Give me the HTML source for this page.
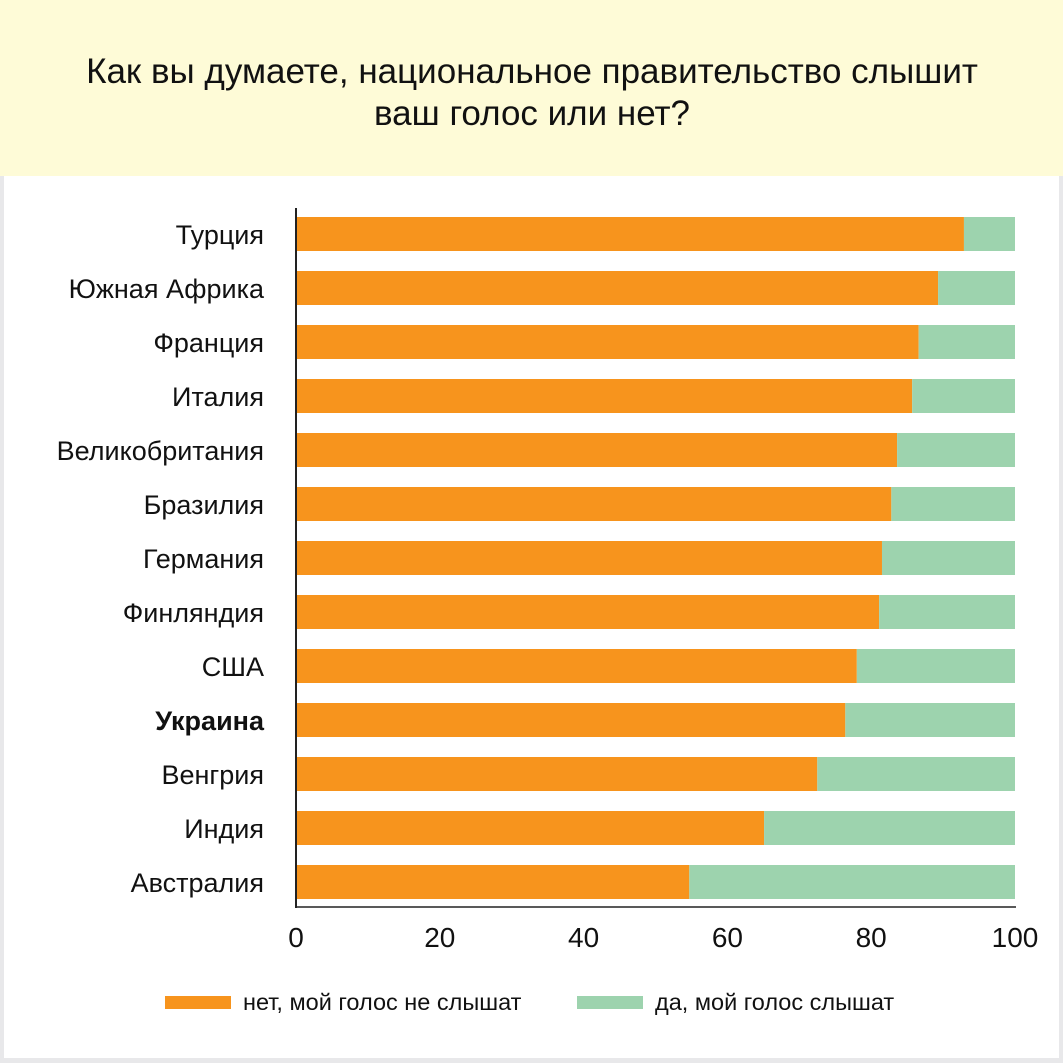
<!DOCTYPE html>
<html><head><meta charset="utf-8"><style>
body{margin:0;width:1063px;height:1063px;background:#e8e8ea;font-family:"Liberation Sans",sans-serif;overflow:hidden}
svg{display:block}
</style></head><body>
<svg width="1063" height="1063">
<rect x="4" y="0" width="1055" height="1058" fill="#fff"/>
<rect x="0" y="0" width="1063" height="176" fill="#fefbd7"/>
<text x="532" y="83" text-anchor="middle" font-size="35" fill="#111">Как вы думаете, национальное правительство слышит</text>
<text x="532" y="125" text-anchor="middle" font-size="35" fill="#111">ваш голос или нет?</text>
<g id="bars"></g>
<line x1="296" y1="208" x2="296" y2="908" stroke="#222" stroke-width="2"/>
<line x1="295" y1="907" x2="1016" y2="907" stroke="#222" stroke-width="1.5"/>
<g id="ticks"></g>
<rect x="165" y="996" width="66" height="13" fill="#f7941d"/>
<text x="243" y="1010" font-size="23.5" fill="#111">нет, мой голос не слышат</text>
<rect x="577" y="996" width="66" height="13" fill="#9dd3ae"/>
<text x="655" y="1010" font-size="23.5" fill="#111">да, мой голос слышат</text>
</svg>
<script>
const categories=["Турция","Южная Африка","Франция","Италия","Великобритания","Бразилия","Германия","Финляндия","США","Украина","Венгрия","Индия","Австралия"];
const noValues=[92.9,89.3,86.6,85.7,83.6,82.8,81.5,81.1,78.0,76.4,72.5,65.1,54.7];
const yesValues=[7.1,10.7,13.4,14.3,16.4,17.2,18.5,18.9,22.0,23.6,27.5,34.9,45.3];
const tickValues=[0,20,40,60,80,100];
const NS="http://www.w3.org/2000/svg";
const x=v=>296+v*7.19;
const y=i=>217+i*54;
const g=document.getElementById('bars');
function mk(t,a){const e=document.createElementNS(NS,t);for(const k in a)e.setAttribute(k,a[k]);return e;}
categories.forEach((c,i)=>{
 const r1=mk('rect',{x:x(0),y:y(i),width:x(noValues[i])-x(0),height:34,fill:'#f7941d'});
 
 
 g.appendChild(r1);
 const r2=mk('rect',{x:x(noValues[i]),y:y(i),width:x(noValues[i]+yesValues[i])-x(noValues[i]),height:34,fill:'#9dd3ae'});
 
 
 g.appendChild(r2);
 const t=mk('text',{x:264,y:y(i)+27,'text-anchor':'end','font-size':27,fill:'#111'});
 if(c==="Украина")t.setAttribute('font-weight','bold');
 t.textContent=c;
 
 
 g.appendChild(t);
});
const tg=document.getElementById('ticks');
tickValues.forEach(v=>{
 const t=mk('text',{x:x(v),y:947,'text-anchor':'middle','font-size':28,fill:'#111'});
 t.textContent=v;
 
 
 tg.appendChild(t);
});
</script>
</body></html>
